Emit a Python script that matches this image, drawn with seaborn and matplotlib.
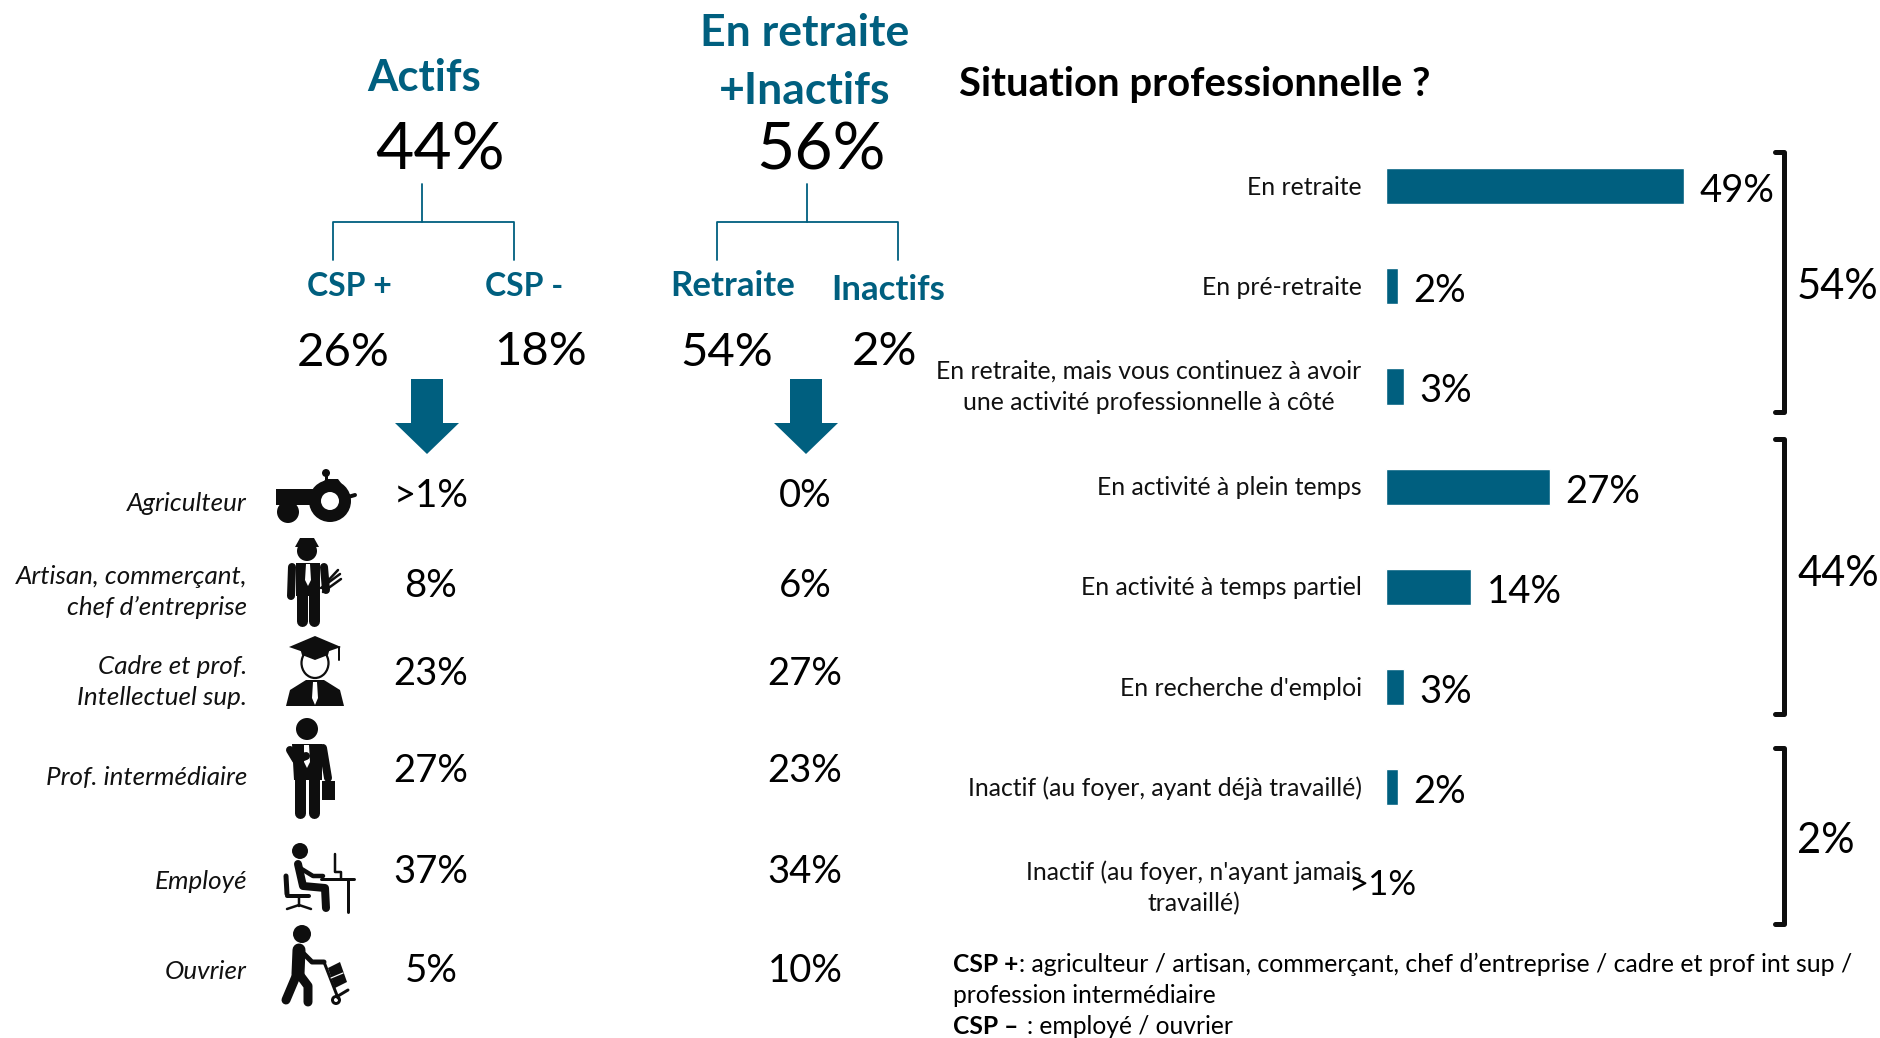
import matplotlib
matplotlib.use('Agg')
import matplotlib.pyplot as plt
from matplotlib.patches import Circle, Ellipse, Polygon
from matplotlib.transforms import ScaledTranslation
import seaborn as sns
import pandas as pd

situations = ['En retraite', 'En pré-retraite',
              'En retraite, mais vous continuez à avoir\nune activité professionnelle à côté',
              'En activité à plein temps', 'En activité à temps partiel',
              "En recherche d'emploi", 'Inactif (au foyer, ayant déjà travaillé)',
              "Inactif (au foyer, n'ayant jamais\ntravaillé)"]
situation_values = [49, 2, 3, 27, 14, 3, 2, 0]
situation_labels = ['49%', '2%', '3%', '27%', '14%', '3%', '2%', '>1%']

professions = ['Agriculteur', 'Artisan, commerçant,\nchef d’entreprise',
               'Cadre et prof.\nIntellectuel sup.', 'Prof. intermédiaire', 'Employé', 'Ouvrier']
actifs_pct = ['>1%', '8%', '23%', '27%', '37%', '5%']
retraite_pct = ['0%', '6%', '27%', '23%', '34%', '10%']

BLUE = '#005F7F'
DARK = '#0E0E0E'
W, H = 1881, 1038

sns.set_theme(style='white')
plt.rcParams['font.family'] = ['Lato', 'DejaVu Sans']

fig = plt.figure(figsize=(W / 100, H / 100), dpi=100)
bg = fig.add_axes([0, 0, 1, 1])
bg.set_xlim(0, W)
bg.set_ylim(H, 0)
bg.axis('off')


def txt(x, y, s, size, color='black', ha='center', **kw):
    # Lato sits a little high when centred, push it down with the size
    bg.text(x, y + 0.1 * size, s, fontsize=size, color=color, ha=ha, va='center', **kw)


# bars
ROW = 100.2
bar_ax = fig.add_axes([1386 / W, 1 - (136 + 8 * ROW) / H, 6.08 * 60 / W, 8 * ROW / H])
df = pd.DataFrame({'situation': situations, 'value': situation_values})
sns.barplot(data=df, y='situation', x='value', color=BLUE, saturation=1, width=0.36, ax=bar_ax)
bar_ax.set_xlim(0, 60)
bar_ax.set_ylim(7.5, -0.5)
bar_ax.set_xlabel('')
bar_ax.set_ylabel('')
bar_ax.set_xticks([])
sns.despine(ax=bar_ax, left=True, bottom=True)
bar_ax.patch.set_alpha(0)
bar_ax.tick_params(axis='y', length=0, pad=17.5, labelsize=17.8, labelcolor='#111111')
for lab in bar_ax.get_yticklabels():
    lab.set_multialignment('center')
    lab.set_linespacing(1.45)
    up = 6 if '\n' in lab.get_text() else 1
    lab.set_transform(lab.get_transform() + ScaledTranslation(0, up / 100, fig.dpi_scale_trans))
for i, (v, s) in enumerate(zip(situation_values, situation_labels)):
    small = s == '>1%'
    bar_ax.annotate(s, (v, i), xytext=(-27 if small else 11, 1.5 if small else -3.5),
                    textcoords='offset points', fontsize=25 if small else 27.5,
                    va='center', color='black')

# headers
txt(424, 75, 'Actifs', 31.5, BLUE, fontweight='bold')
txt(805, 30, 'En retraite', 32, BLUE, fontweight='bold')
txt(805, 88, '+Inactifs', 32, BLUE, fontweight='bold')
txt(440, 146, '44%', 47.5)
txt(821, 146, '56%', 47.5)
txt(959, 82, 'Situation professionnelle ?', 28.8, 'black', ha='left', fontweight='bold')
txt(349, 284, 'CSP +', 23, BLUE, fontweight='bold')
txt(524, 284, 'CSP -', 23, BLUE, fontweight='bold')
txt(733, 284, 'Retraite', 25, BLUE, fontweight='bold')
txt(888, 288, 'Inactifs', 25, BLUE, fontweight='bold')
for x, y, s in [(343, 350, '26%'), (541, 349, '18%'), (727, 350, '54%'), (885, 349, '2%')]:
    txt(x, y, s, 34)

# tree connectors and arrows
for stem, left, right in [(422, 333, 514), (807, 717, 898)]:
    bg.plot([stem, stem], [184, 222], color=BLUE, lw=1.3)
    bg.plot([left, left, right, right], [260, 222, 222, 260], color=BLUE, lw=1.3)
for cx in [427, 806]:
    bg.add_patch(Polygon([(cx - 16, 379), (cx + 16, 379), (cx + 16, 423), (cx + 32, 423), (cx, 454),
                          (cx - 32, 423), (cx - 16, 423)], closed=True, color=BLUE, lw=0))

# left table
rows_y = [493, 583, 671, 768, 869, 968]
labels_y = [502, 590, 680, 776, 880, 970]
for y, ly, prof, a, r in zip(rows_y, labels_y, professions, actifs_pct, retraite_pct):
    txt(247, ly, prof, 18.7, '#111111', ha='right', style='italic', linespacing=1.4)
    txt(431, y, a, 27.5)
    txt(805, y, r, 27.5)

# brackets
for top, bottom, y, s in [(152, 412, 284, '54%'), (439, 714, 571, '44%'), (748, 924, 838, '2%')]:
    bg.plot([1775, 1784, 1784, 1775], [top, top, bottom, bottom], color=DARK, lw=3.6,
            solid_joinstyle='round')
    txt(1797, y, s, 30, ha='left')

# footnote
txt(953, 963, 'CSP +', 17.7, ha='left', fontweight='bold')
txt(1019, 963, ': agriculteur / artisan, commerçant, chef d’entreprise / cadre et prof int sup /', 17.9, ha='left')
txt(953, 994, 'profession intermédiaire', 17.7, ha='left')
txt(953, 1025, 'CSP –', 17.7, ha='left', fontweight='bold')
txt(1027, 1025, ': employé / ouvrier', 17.7, ha='left')


# icons, drawn in pixels from the top left corner of each one
def line(ox, oy, pts, w, color=DARK):
    bg.plot([ox + p[0] for p in pts], [oy + p[1] for p in pts], color=color, lw=w * 0.72,
            solid_capstyle='round', solid_joinstyle='round')


def disc(ox, oy, x, y, r, color=DARK):
    bg.add_patch(Circle((ox + x, oy + y), r, color=color, lw=0))


def poly(ox, oy, pts, color=DARK):
    bg.add_patch(Polygon([(ox + a, oy + b) for a, b in pts], closed=True, color=color, lw=0))


def tractor(ox, oy):
    poly(ox, oy, [(4, 20), (44, 20), (54, 10), (66, 10), (78, 26), (60, 36), (4, 36)])
    disc(ox, oy, 54, 4, 4)
    line(ox, oy, [(54, 4), (54, 12)], 3)
    disc(ox, oy, 58, 32, 21)
    disc(ox, oy, 58, 32, 9, 'white')
    disc(ox, oy, 16, 43, 11)
    line(ox, oy, [(76, 28), (83, 26)], 4)


def artisan(ox, oy):
    disc(ox, oy, 24, 15, 10)
    poly(ox, oy, [(12, 11), (17, 2), (31, 2), (36, 11)])
    poly(ox, oy, [(13, 27), (37, 27), (37, 60), (13, 60)])
    line(ox, oy, [(9, 31), (8, 60)], 8)
    line(ox, oy, [(41, 31), (43, 54)], 8)
    line(ox, oy, [(19, 58), (19, 85)], 11)
    line(ox, oy, [(31, 58), (31, 85)], 11)
    poly(ox, oy, [(23, 28), (27, 28), (28, 44), (25, 50), (22, 44)], 'white')
    line(ox, oy, [(38, 52), (57, 38)], 2.5)
    line(ox, oy, [(40, 56), (58, 43)], 2.5)
    line(ox, oy, [(42, 48), (55, 34)], 2.5)


def graduate(ox, oy):
    poly(ox, oy, [(3, 11), (29, 0), (55, 11), (29, 20)])
    line(ox, oy, [(53, 11), (53, 24)], 2)
    poly(ox, oy, [(0, 70), (4, 54), (20, 44), (38, 44), (54, 54), (58, 70)])
    bg.add_patch(Ellipse((ox + 29, oy + 27), 27, 30, fc='white', ec=DARK, lw=1.6))
    poly(ox, oy, [(14, 12), (44, 12), (42, 19), (29, 24), (16, 19)])
    poly(ox, oy, [(27, 46), (31, 46), (32, 62), (29, 69), (26, 62)], 'white')


def manager(ox, oy):
    disc(ox, oy, 25, 11, 11)
    poly(ox, oy, [(10, 26), (40, 26), (40, 62), (12, 62)])
    line(ox, oy, [(8, 32), (14, 42), (24, 38)], 8)
    line(ox, oy, [(41, 30), (46, 60)], 8)
    line(ox, oy, [(18, 60), (18, 95)], 11)
    line(ox, oy, [(32, 60), (32, 95)], 11)
    poly(ox, oy, [(22, 27), (27, 27), (28, 44), (25, 50), (22, 44)], 'white')
    poly(ox, oy, [(40, 63), (53, 63), (53, 82), (40, 82)])


def employee(ox, oy):
    disc(ox, oy, 25, 15, 8)
    line(ox, oy, [(23, 28), (28, 50), (50, 52), (51, 72)], 8)
    line(ox, oy, [(25, 32), (38, 40), (48, 40)], 4.5)
    line(ox, oy, [(11, 40), (12, 58)], 5)
    line(ox, oy, [(12, 60), (34, 60)], 4)
    line(ox, oy, [(24, 60), (24, 70)], 2.5)
    line(ox, oy, [(12, 73), (24, 69), (36, 73)], 2.5)
    line(ox, oy, [(46, 43), (79, 43)], 3)
    line(ox, oy, [(73, 43), (73, 76)], 3)
    line(ox, oy, [(60, 18), (60, 36), (66, 36), (66, 42)], 2.5)


def worker(ox, oy):
    disc(ox, oy, 24, 10, 9)
    line(ox, oy, [(21, 26), (20, 50)], 13)
    line(ox, oy, [(19, 50), (8, 76)], 9)
    line(ox, oy, [(21, 50), (30, 62), (30, 78)], 9)
    line(ox, oy, [(24, 28), (34, 38), (46, 38)], 5)
    line(ox, oy, [(46, 38), (60, 74)], 3)
    line(ox, oy, [(60, 72), (70, 66)], 3)
    poly(ox, oy, [(50, 44), (62, 38), (69, 58), (57, 64)])
    line(ox, oy, [(53, 54), (65, 49)], 1.2, 'white')
    disc(ox, oy, 58, 76, 5)
    disc(ox, oy, 58, 76, 2, 'white')


tractor(272, 469)
artisan(283, 536)
graduate(286, 636)
manager(282, 718)
employee(275, 836)
worker(278, 924)

fig.savefig('out.png', dpi=100, facecolor='white')
